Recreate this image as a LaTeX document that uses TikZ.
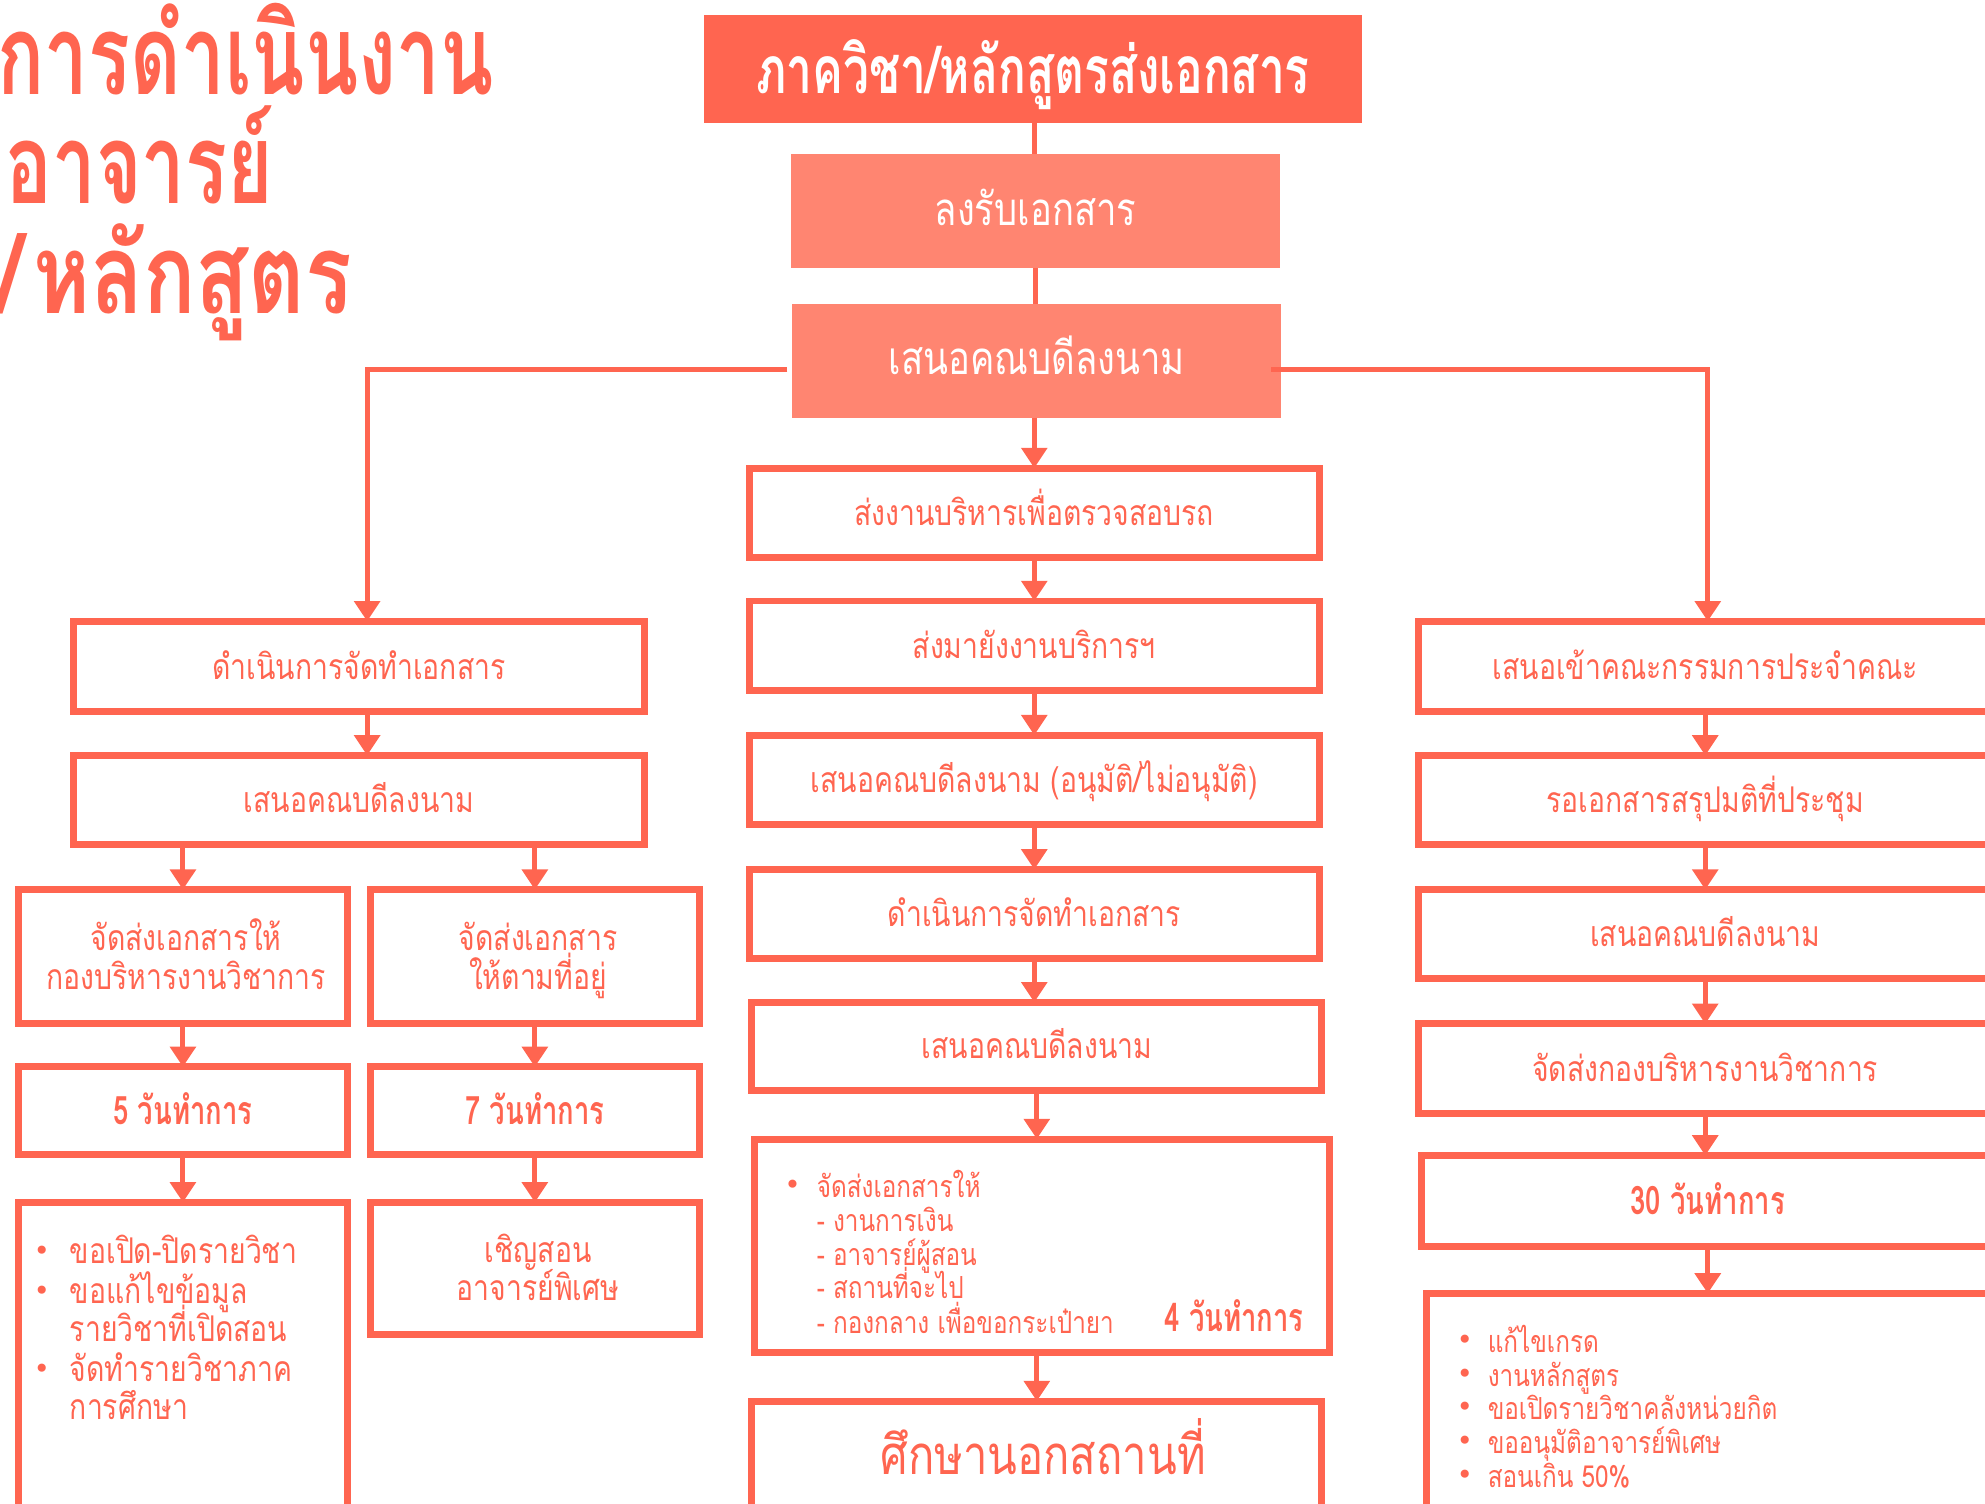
\documentclass[tikz,border=0pt]{standalone}
\usepackage{fontspec}
\usetikzlibrary{arrows.meta}
\newfontfamily\thai[Script=Thai,FakeStretch=0.8]{Loma}
\newfontfamily\thaicond[Script=Thai,FakeStretch=0.7]{Loma}
\newfontfamily\thaiwide[Script=Thai,FakeStretch=0.78]{Loma}
\newfontfamily\dvs{DejaVu Sans}
\definecolor{tom}{HTML}{FF6550}
\definecolor{sal}{HTML}{FF8571}
\tikzset{
  obox/.style={draw=tom, line width=5.5pt, inner sep=0pt, outer sep=0pt, text=tom,
    font=\thai\fontsize{28}{31}\selectfont, text height=20pt, text depth=0pt},
  sz/.style 2 args={minimum width=#1-5.5, minimum height=#2-5.5},
  fillbox/.style={fill=#1, draw=none, inner sep=0pt, outer sep=0pt, text=white},
  conn/.style={draw=tom, line width=4pt},
  arr/.style={conn, -{Triangle[width=20pt,length=16pt]}},
  body/.style={inner sep=0pt, text=tom, font=\thai\fontsize{28}{31}\selectfont},
  small/.style={inner sep=0pt, text=tom, font=\thai\fontsize{24}{27}\selectfont},
  boldtxt/.style={font=\thaicond\bfseries\fontsize{31}{34}\selectfont, text height=22pt},
  bul/.style={inner sep=0pt, text=tom, font=\dvs\fontsize{22}{24}\selectfont},
  title/.style={inner sep=0pt, text=tom, font=\thaicond\bfseries\fontsize{88}{92}\selectfont}
}
\begin{document}
\begin{tikzpicture}[x=1pt,y=-1pt]
\useasboundingbox (0,0) rectangle (1568,1188);
\clip (0,0) rectangle (1568,1188);

% title
\node[title, anchor=base west] (t1) at (-2,75) {การดำเนินงาน};
\node[title, anchor=base west] (t2) at (4,161) {อาจารย์};
\node[title, anchor=base west, font=\thaiwide\bfseries\fontsize{88}{92}\selectfont] (t3) at (-2,248) {/\kern8pt หลักสูตร};

% top
\node[fillbox=tom, minimum width=520, minimum height=85,
  font=\thaicond\bfseries\fontsize{52}{56}\selectfont, text height=39pt, text depth=0pt] (A) at (816,54.5) {ภาควิชา/หลักสูตรส่งเอกสาร};
\node[fillbox=sal, minimum width=386, minimum height=90,
  font=\thai\fontsize{36}{40}\selectfont, text height=22pt, text depth=0pt] (B) at (818,167) {ลงรับเอกสาร};
\node[fillbox=sal, minimum width=386, minimum height=90,
  font=\thai\fontsize{36}{40}\selectfont, text height=22pt, text depth=0pt] (C) at (819,285) {เสนอคณบดีลงนาม};

% middle column
\node[obox, sz={456}{76}] (M1) at (817,405) {ส่งงานบริหารเพื่อตรวจสอบรถ};
\node[obox, sz={456}{76}] (M2) at (817,510) {ส่งมายังงานบริการฯ};
\node[obox, sz={456}{76}] (M3) at (817,616) {เสนอคณบดีลงนาม (อนุมัติ/ไม่อนุมัติ)};
\node[obox, sz={456}{76}] (M4) at (817,722) {ดำเนินการจัดทำเอกสาร};
\node[obox, sz={456}{75}] (M5) at (819,826.5) {เสนอคณบดีลงนาม};
\node[obox, sz={460}{174}] (M6) at (823,984) {};
\node[obox, sz={456}{140}] (M7) at (819,1174) {};

% left column
\node[obox, sz={457}{77}] (L1) at (283.5,526.5) {ดำเนินการจัดทำเอกสาร};
\node[obox, sz={457}{76}] (L2) at (283.5,632) {เสนอคณบดีลงนาม};
\node[obox, sz={265}{111}] (L3a) at (144.5,755.5) {};
\node[obox, sz={265}{111}] (L3b) at (422.5,755.5) {};
\node[obox, boldtxt, sz={265}{75}] (L4a) at (144.5,877.5) {5 วันทำการ};
\node[obox, boldtxt, sz={265}{75}] (L4b) at (422.5,877.5) {7 วันทำการ};
\node[obox, sz={265}{263}] (L5a) at (144.5,1078.5) {};
\node[obox, sz={265}{110}] (L5b) at (422.5,1002) {};

% right column
\node[obox, sz={458}{77}] (R1) at (1347,526.5) {เสนอเข้าคณะกรรมการประจำคณะ};
\node[obox, sz={458}{76}] (R2) at (1347,632) {รอเอกสารสรุปมติที่ประชุม};
\node[obox, sz={458}{76}] (R3) at (1347,738) {เสนอคณบดีลงนาม};
\node[obox, sz={458}{76}] (R4) at (1347,844) {จัดส่งกองบริหารงานวิชาการ};
\node[obox, boldtxt, sz={458}{77}] (R5) at (1349,948.5) {30 วันทำการ};
\node[obox, sz={458}{200}] (R6) at (1353,1119) {};

% multi-line texts
\node[body, anchor=base] (l3a1) at (147,751) {จัดส่งเอกสารให้};
\node[body, anchor=base] (l3a2) at (147,782) {กองบริหารงานวิชาการ};
\node[body, anchor=base] (l3b1) at (425,751) {จัดส่งเอกสาร};
\node[body, anchor=base] (l3b2) at (425,782) {ให้ตามที่อยู่};
\node[body, anchor=base] (l5b1) at (425,997) {เชิญสอน};
\node[body, anchor=base] (l5b2) at (425,1027) {อาจารย์พิเศษ};

% left list
\node[bul] (la1b) at (33,990) {•};
\node[body, anchor=base west] (la1) at (55,998) {ขอเปิด-ปิดรายวิชา};
\node[bul] (la2b) at (33,1022) {•};
\node[body, anchor=base west] (la2) at (55,1030) {ขอแก้ไขข้อมูล};
\node[body, anchor=base west] (la3) at (55,1060) {รายวิชาที่เปิดสอน};
\node[bul] (la4b) at (33,1083) {•};
\node[body, anchor=base west] (la4) at (55,1091) {จัดทำรายวิชาภาค};
\node[body, anchor=base west] (la5) at (55,1121) {การศึกษา};

% middle list
\node[bul] (m1b) at (626,938) {•};
\node[small, anchor=base west] (m1) at (645,946) {จัดส่งเอกสารให้};
\node[small, anchor=base west] (m2) at (645,973) {- งานการเงิน};
\node[small, anchor=base west] (m3) at (645,1000) {- อาจารย์ผู้สอน};
\node[small, anchor=base west] (m4) at (645,1026) {- สถานที่จะไป};
\node[small, anchor=base west] (m5) at (645,1053) {- กองกลาง เพื่อขอกระเป๋ายา};
\node[inner sep=0pt, text=tom, font=\thaicond\bfseries\fontsize{31}{34}\selectfont, anchor=base east] (m6) at (1030,1052) {4 วันทำการ};
\node[inner sep=0pt, text=tom, font=\thai\fontsize{43}{47}\selectfont, anchor=base] (m7) at (824,1165) {ศึกษานอกสถานที่};

% right list
\node[bul] (r1b) at (1157,1060) {•};
\node[small, anchor=base west] (r1) at (1175,1068) {แก้ไขเกรด};
\node[bul] (r2b) at (1157,1087) {•};
\node[small, anchor=base west] (r2) at (1175,1095) {งานหลักสูตร};
\node[bul] (r3b) at (1157,1113) {•};
\node[small, anchor=base west] (r3) at (1175,1121) {ขอเปิดรายวิชาคลังหน่วยกิต};
\node[bul] (r4b) at (1157,1140) {•};
\node[small, anchor=base west] (r4) at (1175,1148) {ขออนุมัติอาจารย์พิเศษ};
\node[bul] (r5b) at (1157,1167) {•};
\node[small, anchor=base west] (r5) at (1175,1175) {สอนเกิน 50\%};

% connectors top
\draw[conn] ([xshift=1pt]A.south) -- ([xshift=1pt]A.south |- B.north);
\draw[conn] (B.south) -- (B.south |- C.north);
\draw[arr] ([xshift=-2pt]C.south) -- ([xshift=-2pt]C.south |- M1.north);
\draw[arr] ([xshift=-4pt,yshift=-7pt]C.west) -| ([xshift=6.5pt]L1.north);
\draw[arr] ([xshift=-8pt,yshift=-7pt]C.east) -| ([xshift=2pt]R1.north);

% middle
\draw[arr] (M1.south) -- (M1.south |- M2.north);
\draw[arr] (M2.south) -- (M2.south |- M3.north);
\draw[arr] (M3.south) -- (M3.south |- M4.north);
\draw[arr] (M4.south) -- (M4.south |- M5.north);
\draw[arr] (M5.south) -- (M5.south |- M6.north);
\draw[arr] ([xshift=-4pt]M6.south) -- ([xshift=-4pt]M6.south |- M7.north);

% left
\draw[arr] ([xshift=6.5pt]L1.south) -- ([xshift=6.5pt]L1.south |- L2.north);
\draw[arr] (L2.south -| L3a.north) -- (L3a.north);
\draw[arr] (L2.south -| L3b.north) -- (L3b.north);
\draw[arr] (L3a.south) -- (L4a.north);
\draw[arr] (L3b.south) -- (L4b.north);
\draw[arr] (L4a.south) -- (L5a.north);
\draw[arr] (L4b.south) -- (L5b.north);

% right
\draw[arr] (R1.south) -- (R1.south |- R2.north);
\draw[arr] (R2.south) -- (R2.south |- R3.north);
\draw[arr] (R3.south) -- (R3.south |- R4.north);
\draw[arr] (R4.south) -- (R4.south |- R5.north);
\draw[arr] (R5.south) -- (R5.south |- R6.north);
\end{tikzpicture}
\end{document}
